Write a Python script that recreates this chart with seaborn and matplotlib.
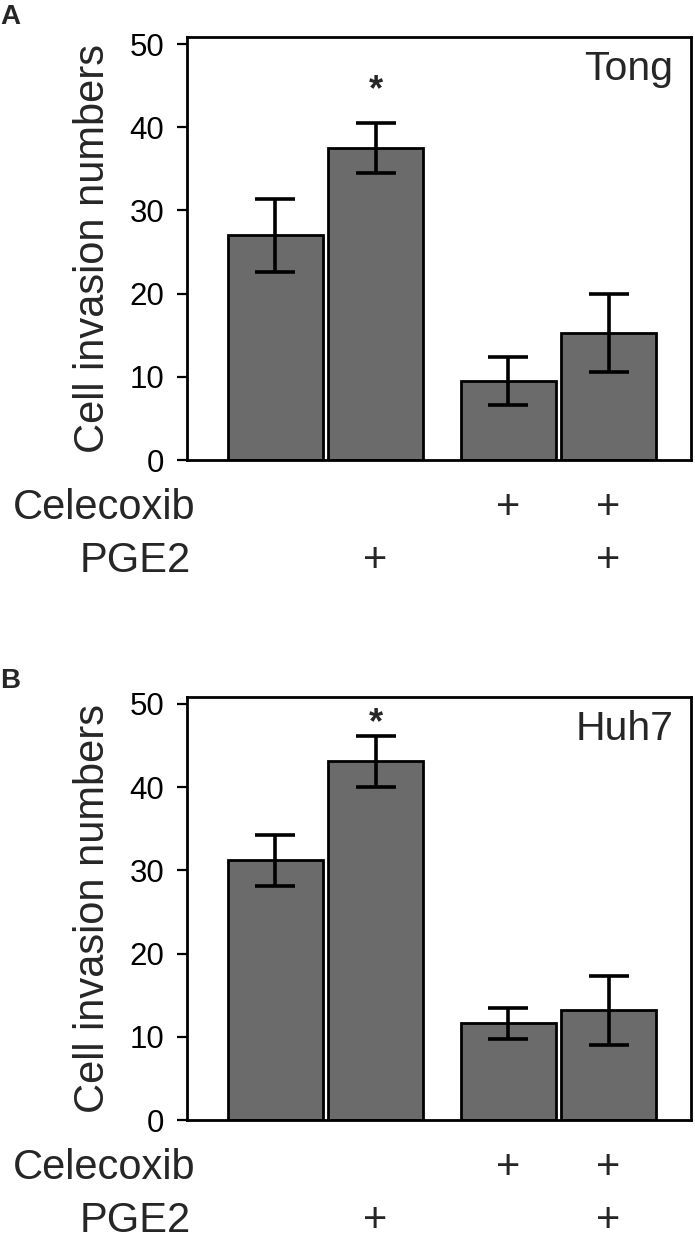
import pandas as pd
import seaborn as sns
import matplotlib.pyplot as plt
import matplotlib.transforms as mtransforms

sns.set_theme(style="white")
plt.rcParams['font.family'] = ['Liberation Sans', 'DejaVu Sans']

# treatment of each bar (left to right)
celecoxib = ['−', '−', '+', '+']
pge2 = ['−', '+', '−', '+']

# Tong cells
tong_mean = [27.0, 37.5, 9.5, 15.3]
tong_err = [4.35, 2.95, 2.85, 4.7]

# Huh7 cells
huh7_mean = [31.2, 43.1, 11.6, 13.2]
huh7_err = [3.05, 3.1, 1.9, 4.15]

panel_names = ['Tong', 'Huh7']
panel_letters = ['A', 'B']
star_y = [43.3, 46.5]
yticks = [0, 10, 20, 30, 40, 50]

bar_color = '#6b6b6b'

fig = plt.figure(figsize=(6.95, 12.41), dpi=100)
rects = [[0.2686, 0.6293, 0.7250, 0.3406],
         [0.2686, 0.0975, 0.7250, 0.3406]]
letter_y = [0.9807, 0.4456]

for i, (means, errs) in enumerate([(tong_mean, tong_err), (huh7_mean, huh7_err)]):
    ax = fig.add_axes(rects[i])
    df = pd.DataFrame({'Celecoxib': celecoxib, 'PGE2': pge2, 'value': means})
    sns.barplot(data=df, x='Celecoxib', y='value', hue='PGE2',
                order=['−', '+'], hue_order=['−', '+'],
                palette={'−': bar_color, '+': bar_color}, saturation=1,
                errorbar=None, width=0.86, gap=0.05, legend=False,
                edgecolor='black', linewidth=2.0, ax=ax)

    # bar centres from the drawn patches, left to right
    centers = sorted(p.get_x() + p.get_width() / 2 for p in ax.patches)
    ax.errorbar(centers, means, yerr=errs, fmt='none', ecolor='black',
                elinewidth=2.6, capsize=14.5, capthick=2.6, zorder=3)

    ax.set_xlim(-0.596, 1.567)
    ax.set_ylim(0, 50.8)
    ax.set_yticks(yticks)
    ax.set_xlabel('')
    ax.set_ylabel('Cell invasion numbers', fontsize=30)
    ax.yaxis.set_label_coords(-0.146, 0.5)
    ax.tick_params(axis='y', direction='out', length=7.2, width=1.6,
                   pad=9, labelsize=22.5, left=True, colors='black')
    ax.tick_params(axis='x', bottom=False, labelbottom=False)
    for s in ax.spines.values():
        s.set_visible(True)
        s.set_color('black')
        s.set_linewidth(2.0)

    # cell line name + significance star
    ax.text(0.966, 0.899, panel_names[i], transform=ax.transAxes,
            ha='right', va='baseline', fontsize=29.5)
    ax.text(centers[1], star_y[i], '*', ha='center', va='baseline',
            fontsize=26, fontweight='bold')

    # treatment table under the bars
    trans = mtransforms.blended_transform_factory(ax.transData, ax.transAxes)
    rows = [('Celecoxib', celecoxib, -0.1396, 0.018),
            ('PGE2', pge2, -0.266, 0.009)]
    for name, flags, ry, rx in rows:
        ax.text(rx, ry, name, transform=ax.transAxes, ha='right',
                va='baseline', fontsize=30, clip_on=False)
        for cx, f in zip(centers, flags):
            if f == '+':
                ax.text(cx, ry, '+', transform=trans, ha='center',
                        va='baseline', fontsize=30, clip_on=False)

    fig.text(0.0, letter_y[i], panel_letters[i], ha='left', va='baseline',
             fontsize=20, fontweight='bold')

fig.savefig('out.png', dpi=100)
